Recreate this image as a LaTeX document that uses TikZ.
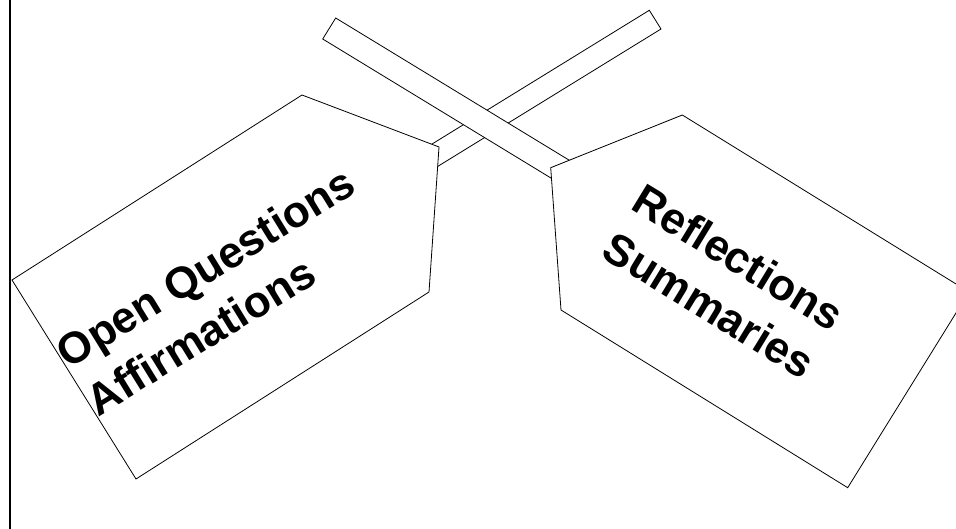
\documentclass[tikz,border=0pt]{standalone}
\usepackage{fontspec}
\setmainfont{Liberation Sans}
\usetikzlibrary{calc}
\tikzset{
  outline/.style={draw=black, line width=0.8pt, fill=white, line join=miter},
  label/.style={font=\fontsize{44}{56}\selectfont\bfseries, align=left, inner sep=0pt},
}
\begin{document}
\begin{tikzpicture}[x=1pt,y=-1pt]
\useasboundingbox (0,0) rectangle (956,529);
\clip (0,0) rectangle (956,529);
% left border line
\draw[line width=2pt] (10,0) -- (10,529);
% handle of the left paddle (goes up to the right)
\coordinate (h1a) at (649.3,10.3);
\coordinate (h1b) at (661,29);
\draw[outline] (h1a) -- (h1b) -- ++(-239,147.1) -- ($(h1a)+(-239,147.1)$) -- cycle;
% handle of the right paddle (goes down to the right), on top
\coordinate (h2a) at (335.7,18);
\coordinate (h2b) at (322.7,39);
\draw[outline] (h2a) -- (h2b) -- ++(268.6,163.6) -- ($(h2a)+(268.6,163.6)$) -- cycle;
% left paddle blade
\draw[outline] (12,280) -- (302,95) -- (439,147) -- (429,292) -- (136,479) -- cycle;
% right paddle blade
\draw[outline] (550.7,167.7) -- (682.3,115) -- (969,292) -- (847.7,487.7) -- (561,310) -- cycle;
% texts
\node[label, rotate=31.6] (lefttext) at (220,291) {Open Questions\\Affirmations};
\node[label, rotate=-31.4] (righttext) at (724,281) {Reflections\\Summaries};
\end{tikzpicture}
\end{document}
